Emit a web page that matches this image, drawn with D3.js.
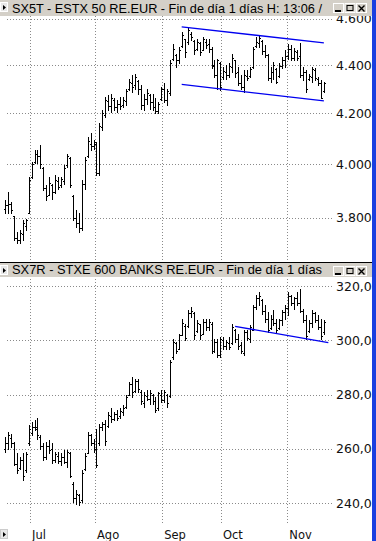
<!DOCTYPE html>
<html>
<head>
<meta charset="utf-8">
<script src="https://cdn.jsdelivr.net/npm/d3@7"></script>
<style>
  body { margin: 0; background: #fff; }
  svg { display: block; }
</style>
</head>
<body>
<svg width="376" height="541"></svg>
<script>
var svg = d3.select("svg"),
    width = +svg.attr("width"),
    height = +svg.attr("height");

// month labels and where each month starts (bar index)
var months = ["Jul", "Ago", "Sep", "Oct", "Nov"];
var monthStart = [8.5, 30.5, 53.3, 73.2, 95.7];

var sx5tTicks = [3800, 4000, 4200, 4400, 4600];
var sx7rTicks = [240, 260, 280, 300, 320];

// SX5T - ESTX 50 RE.EUR, daily bars
var sx5tOpen  = [3830,3845,3850,3805,3725,3720,3740,3770,3818,3950,4008,4040,4030,3985,3910,3885,3920,3895,3935,3920,3935,3995,4025,3880,3800,3780,3760,3925,4030,4080,4070,4085,3965,4145,4195,4250,4230,4255,4225,4240,4235,4250,4300,4325,4315,4335,4300,4235,4260,4275,4245,4225,4210,4258,4300,4255,4285,4425,4445,4420,4480,4510,4500,4535,4505,4470,4495,4465,4500,4490,4470,4400,4360,4410,4350,4370,4360,4390,4420,4370,4325,4310,4355,4355,4390,4480,4495,4505,4460,4445,4345,4370,4385,4355,4395,4420,4440,4470,4430,4455,4440,4360,4370,4340,4350,4380,4340,4325,4290];
var sx5tHigh  = [3864,3895,3858,3805,3748,3754,3790,3796,3952,4010,4054,4054,4074,3990,3920,3952,3926,3958,3952,3952,3996,4041,4028,3882,3827,3815,3939,4028,4107,4120,4094,4087,4160,4213,4268,4274,4281,4261,4254,4268,4268,4302,4343,4357,4364,4337,4316,4281,4302,4281,4281,4261,4247,4309,4323,4302,4421,4492,4449,4478,4543,4514,4565,4543,4507,4514,4500,4521,4514,4514,4478,4421,4428,4414,4393,4400,4407,4449,4421,4393,4357,4378,4378,4393,4478,4521,4528,4507,4485,4449,4393,4414,4386,4407,4435,4464,4492,4485,4471,4464,4495,4393,4378,4364,4393,4386,4350,4337,4330];
var sx5tLow   = [3815,3818,3815,3718,3707,3707,3718,3754,3815,3946,4003,4003,3984,3901,3864,3883,3870,3889,3907,3914,3926,3990,3914,3790,3766,3748,3754,3907,4028,4054,4060,3958,3958,4133,4186,4213,4206,4213,4206,4220,4227,4234,4295,4288,4302,4281,4220,4213,4240,4220,4213,4200,4200,4254,4247,4234,4274,4421,4393,4407,4478,4435,4492,4507,4449,4464,4442,4464,4471,4457,4386,4350,4302,4295,4343,4343,4350,4371,4350,4316,4302,4288,4337,4350,4386,4478,4478,4449,4435,4337,4330,4343,4323,4350,4386,4393,4428,4421,4421,4421,4350,4337,4288,4337,4330,4337,4316,4261,4288];
var sx5tClose = [3845,3850,3828,3725,3720,3745,3780,3790,3940,4000,4040,4030,4000,3910,3880,3930,3895,3940,3915,3945,3985,4030,3920,3800,3780,3760,3925,4015,4090,4070,4080,3965,4150,4200,4255,4230,4265,4225,4240,4230,4255,4290,4330,4310,4350,4300,4235,4260,4285,4245,4225,4210,4240,4300,4255,4290,4410,4470,4420,4465,4530,4455,4550,4520,4465,4500,4455,4510,4485,4470,4395,4360,4420,4310,4375,4360,4395,4430,4365,4325,4310,4360,4345,4385,4470,4500,4515,4460,4445,4345,4370,4400,4330,4395,4420,4440,4470,4430,4460,4430,4360,4370,4300,4355,4385,4345,4325,4265,4325];

// SX7R - STXE 600 BANKS RE.EUR, daily bars
var sx7rOpen  = [260,262,264,262,254.5,253,256,252,262,266,268,268,264.5,261,257,261,260,256,257.5,255.5,257,255,258.5,247,242,243,241,252.5,258.5,265,262,260,262,268,269,268.5,272,271,273,272,273.5,275.5,280,284,281.5,285,281,277,279.5,278.5,280,277.5,275,280,278,280,279.5,294,299,297,302,305.5,305.5,310,310,303.5,306,302.5,307,305,306,296,299.5,294.5,300,298,299,299,304,300.5,298.5,295.5,303,300.5,304,312.5,315.5,315,311,308,304.5,308,306.5,304.5,307.5,310.5,312,316.5,314,315.5,314,311,307.5,303.5,306.5,310,307.5,305,303];
var sx7rHigh  = [264.4,266.2,265.6,262.5,258.3,257,258.3,258.9,268.7,269.9,270.5,271.2,265,262,262.5,263.1,262,258.9,258.9,258.3,259.5,259.5,258.9,247.8,244.7,243.5,252.1,258.3,266.2,265.6,263.8,267.5,269.3,269.9,270.5,273.6,274.9,273.6,274.2,274.9,276.1,279.8,284.7,286.5,285.9,285.9,281.6,281,281.6,281.6,280.4,279.2,281,281.6,281.6,280.4,292.7,300.7,299.5,302.5,308.1,306.2,311.1,312.4,310.5,307.5,306.2,308.1,308.1,308.1,306.8,300.7,300.7,301.3,301.3,300.1,301.3,306.2,304.4,302.5,299.5,303.8,303.8,305.6,313,316.7,317.9,315.4,313,310.5,309.3,311.1,308.1,308.1,311.1,313,317.9,316.7,316.1,317.9,319.1,311.8,309.3,307.5,311.1,310.5,309.3,308.1,307.5];
var sx7rLow   = [258.9,260.1,260.7,253.9,251,252.7,248.4,251.5,261.3,265,266.8,263.8,260.1,255.8,256.4,258.3,254.6,255.2,254.6,253.9,254.6,253.3,249.6,240.4,239.8,239.2,240.4,252.1,258.3,261.3,258.9,253.3,261.3,266.8,261.3,268.1,269.9,270.5,270.5,271.2,272.4,274.9,279.8,279.2,281,281,276.7,275.5,277.9,276.7,276.7,273.6,274.2,277.3,277.3,275.5,279.2,293.3,295.2,297,301.9,300.1,305,308.7,300.7,303.1,300.7,302.5,303.8,303.8,295.2,295.8,293.9,293.9,297,297,297,298.8,299.5,297,295.2,294.5,300.1,299.5,303.8,311.8,313,309.9,306.8,303.1,304.4,305.6,303.1,304.4,305.6,308.1,309.3,313,311.8,313,310.5,306.8,300.7,303.1,305,306.8,304.4,300.7,302.5];
var sx7rClose = [262,265,262,254.5,252,256,250,258,267.5,268,267.5,265,261,257,261,259.5,256,258,255.5,257,255,259,250,242,243.5,240.5,251,257.5,265,262,260,254,268,269,263,272.5,271,273,271.5,274,275,279,284,281,285,282,277.5,280,278.5,280.5,277.5,274.5,280.5,278,281,277,292,299.5,296,302,306.5,301,310,311,302,306.5,302,307,305,307,296,299.5,294.5,300.5,298,299.5,297.5,305,300.5,298,296,303,301,305,312.5,315.5,316.5,311,308,304,308,306.5,304,307.5,310.5,312,316.5,314,315.5,314,311,307.5,301.5,306.5,310,307.5,305,301.5,307];

// drawn trend lines: [bar index, value]
var sx5tUpper = [[59.9, 4565], [108.1, 4495]];
var sx5tLower = [[59.9, 4319], [108.1, 4251]];
var sx7rSupport = [[78, 305.2], [109.6, 299.2]];

var x = d3.scaleLinear()
  .domain([0, sx5tClose.length - 1])
  .range([5, 323.6]);

var yTop = d3.scaleLog()
  .domain([3800, 4600])
  .range([217.5, 18.9]);

var yBot = d3.scaleLinear()
  .domain([240, 320])
  .range([503, 286.3]);

var fmtTop = function(v) { return d3.format(",.2f")(v).replace(/,/g, "#").replace(".", ",").replace(/#/g, "."); };
var fmtBot = function(v) { return d3.format(".2f")(v).replace(".", ","); };

function px(v) { return Math.round(v) + 0.5; }

svg.append("rect").attr("width", width).attr("height", height).attr("fill", "#fff");

svg.append("clipPath").attr("id", "label-clip")
  .append("rect").attr("x", 0).attr("y", 0).attr("width", 372).attr("height", height);

function drawPanel(top, bottom, y, ticks, fmt, open, high, low, close) {
  var g = svg.append("g");

  // dotted grid
  g.selectAll(".hgrid").data(ticks).enter().append("line")
    .attr("x1", 7).attr("x2", 332)
    .attr("y1", d => px(y(d))).attr("y2", d => px(y(d)))
    .attr("stroke", "#8a8a8a").attr("stroke-dasharray", "1,2");

  g.selectAll(".vgrid").data(monthStart).enter().append("line")
    .attr("x1", d => px(x(d))).attr("x2", d => px(x(d)))
    .attr("y1", top).attr("y2", bottom)
    .attr("stroke", "#8a8a8a").attr("stroke-dasharray", "1,2");

  g.append("g").attr("clip-path", "url(#label-clip)")
    .selectAll("text").data(ticks).enter().append("text")
    .attr("x", 336)
    .attr("y", d => y(d) + 4.5)
    .attr("font-family", "DejaVu Sans")
    .attr("font-size", 12.5)
    .attr("fill", "#111")
    .text(fmt);

  // OHLC bars
  g.selectAll(".bar").data(close).enter().append("path")
    .attr("d", function(c, i) {
      var xi = px(x(i));
      return "M" + xi + "," + (Math.round(y(high[i]))) +
             "V" + (Math.round(y(low[i])) + 1) +
             "M" + (xi - 1.5) + "," + px(y(open[i])) + "H" + xi +
             "M" + xi + "," + px(y(c)) + "H" + (xi + 1.5);
    })
    .attr("fill", "none")
    .attr("stroke", "#000")
    .attr("stroke-width", 1);
  return g;
}

function trendLine(g, y, pts) {
  g.append("line")
    .attr("x1", x(pts[0][0])).attr("y1", y(pts[0][1]))
    .attr("x2", x(pts[1][0])).attr("y2", y(pts[1][1]))
    .attr("stroke", "#0000f0")
    .attr("stroke-width", 1.3);
}

var gTop = drawPanel(16, 261, yTop, sx5tTicks, fmtTop, sx5tOpen, sx5tHigh, sx5tLow, sx5tClose);
trendLine(gTop, yTop, sx5tUpper);
trendLine(gTop, yTop, sx5tLower);

var gBot = drawPanel(276, 524, yBot, sx7rTicks, fmtBot, sx7rOpen, sx7rHigh, sx7rLow, sx7rClose);
trendLine(gBot, yBot, sx7rSupport);

// month labels
svg.selectAll(".month").data(months).enter().append("text")
  .attr("x", (d, i) => x(monthStart[i]) + 2)
  .attr("y", 539)
  .attr("font-family", "DejaVu Sans")
  .attr("font-size", 11.5)
  .attr("fill", "#111")
  .text(d => d);

// title bars
function titleBar(y0, h, label) {
  var g = svg.append("g");
  g.append("rect").attr("x", 0).attr("y", y0).attr("width", 372).attr("height", h).attr("fill", "#d4d0c8");
  g.append("rect").attr("x", 0.5).attr("y", y0 + 2.5).attr("width", 7).attr("height", 9)
    .attr("fill", "#e8e8e8").attr("stroke", "#fff");
  g.append("path").attr("d", "M3," + (y0 + 5) + "L6," + (y0 + 7.5) + "L3," + (y0 + 10) + "Z").attr("fill", "#000");
  g.append("text")
    .attr("x", 12).attr("y", y0 + h - 3)
    .attr("font-family", "Liberation Sans, Arial")
    .attr("font-size", 13)
    .attr("textLength", 310)
    .attr("lengthAdjust", "spacingAndGlyphs")
    .attr("fill", "#000")
    .text(label);
  var btn = ["min", "max", "close"];
  btn.forEach(function(b, k) {
    var bx = 333 + k * 11.5, by = y0 + 3;
    g.append("rect").attr("x", bx + 0.5).attr("y", by + 0.5).attr("width", 10).attr("height", 9)
      .attr("fill", "#d4d0c8").attr("stroke", "#fff");
    if (b === "min") g.append("rect").attr("x", bx + 2).attr("y", by + 7).attr("width", 6).attr("height", 2).attr("fill", "#000");
    if (b === "max") g.append("rect").attr("x", bx + 2.5).attr("y", by + 2.5).attr("width", 6).attr("height", 5).attr("fill", "none").attr("stroke", "#000");
    if (b === "close") g.append("path").attr("d", "M" + (bx + 2.5) + "," + (by + 2.5) + "L" + (bx + 8.5) + "," + (by + 8.5) + "M" + (bx + 8.5) + "," + (by + 2.5) + "L" + (bx + 2.5) + "," + (by + 8.5)).attr("stroke", "#000").attr("stroke-width", 1.4);
  });
}

titleBar(0, 16, "SX5T - ESTX 50 RE.EUR - Fin de día 1 días H: 13:06 /");
svg.append("line").attr("x1", 0).attr("x2", 372).attr("y1", 262.5).attr("y2", 262.5).attr("stroke", "#000");
titleBar(263, 14, "SX7R - STXE 600 BANKS RE.EUR - Fin de día 1 días");

// bottom-left marker
svg.append("rect").attr("x", 0.5).attr("y", 529.5).attr("width", 7).attr("height", 9).attr("fill", "#e8e8e8").attr("stroke", "#ccc");
svg.append("path").attr("d", "M3,532L6,534.5L3,537Z").attr("fill", "#000");

// window edge on the right
svg.append("rect").attr("x", 372).attr("y", 0).attr("width", 4).attr("height", height).attr("fill", "#1a3fe0");
</script>
</body>
</html>
